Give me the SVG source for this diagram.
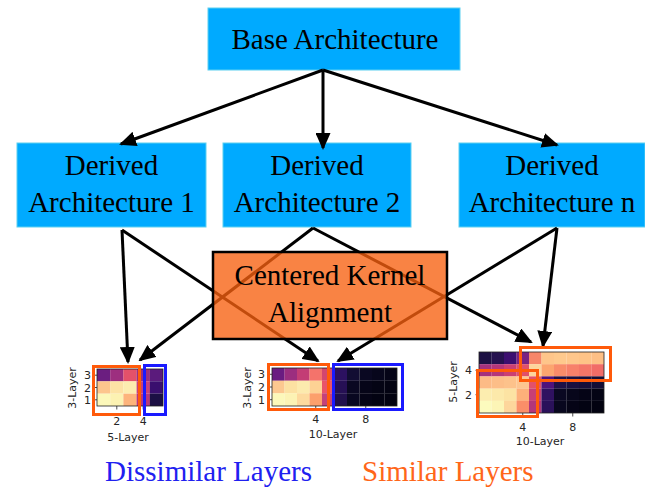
<svg xmlns="http://www.w3.org/2000/svg" width="645" height="487" viewBox="0 0 645 487">
<style>
.nb{fill:#00AAFF;stroke:#5CD0F0;stroke-width:1}
.t{font-family:"Liberation Serif","Times New Roman",serif;font-size:29px;fill:#000;text-anchor:middle}
.ax{font-family:"DejaVu Sans",sans-serif;font-size:11px;fill:#262626}
.c{stroke:#000;stroke-width:3;fill:none;marker-end:url(#ah)}
.sp{fill:none;stroke:#222;stroke-width:0.8}
.tk{stroke:#222;stroke-width:0.8}
.ob{fill:none;stroke:#FF5A0A;stroke-width:3}
.bb{fill:none;stroke:#1A1AFF;stroke-width:3}
</style>
<defs>
<marker id="ah" markerUnits="userSpaceOnUse" markerWidth="17" markerHeight="15" viewBox="0 0 17 15" refX="15" refY="7.5" orient="auto">
<path d="M0,0 L17,7.5 L0,15 z" fill="#000"/>
</marker>
</defs>
<rect width="645" height="487" fill="#fff"/>
<g id="base">
<rect class="nb" x="208" y="8" width="252" height="62"/>
<text class="t" x="335" y="49">Base Architecture</text>
</g>
<g id="derived1">
<rect class="nb" x="17" y="143" width="189" height="84"/>
<text class="t" x="111.5" y="175">Derived</text>
<text class="t" x="111.5" y="212">Architecture 1</text>
</g>
<g id="derived2">
<rect class="nb" x="223" y="143" width="188" height="84"/>
<text class="t" x="317" y="175">Derived</text>
<text class="t" x="317" y="212">Architecture 2</text>
</g>
<g id="derivedn">
<rect class="nb" x="459" y="143" width="186" height="84"/>
<text class="t" x="552" y="175">Derived</text>
<text class="t" x="552" y="212">Architecture n</text>
</g>
<g id="connectors">
<line class="c" x1="323" y1="70" x2="121" y2="144"/>
<line class="c" x1="323" y1="70" x2="323" y2="148"/>
<line class="c" x1="323" y1="70" x2="557" y2="145"/>
<line class="c" x1="122" y1="230" x2="128" y2="362"/>
<line class="c" x1="122" y1="230" x2="318" y2="361"/>
<line class="c" x1="313" y1="228" x2="140" y2="360"/>
<line class="c" x1="313" y1="228" x2="531" y2="342"/>
<line class="c" x1="557" y1="228" x2="338" y2="361"/>
<line class="c" x1="557" y1="228" x2="543" y2="346"/>
</g>
<g id="cka">
<rect x="213" y="252" width="234" height="87" fill="#F76010" fill-opacity="0.78" stroke="#000" stroke-width="2.5"/>
<text class="t" x="330" y="285">Centered Kernel</text>
<text class="t" x="330" y="322">Alignment</text>
</g>
<g id="heatmap1">
<g>
<rect x="97" y="369" width="13.3" height="12.4" fill="#6B1E80"/>
<rect x="110.2" y="369" width="13.3" height="12.4" fill="#9D2F7F"/>
<rect x="123.4" y="369" width="13.3" height="12.4" fill="#E4516A"/>
<rect x="136.6" y="369" width="13.3" height="12.4" fill="#9A3080"/>
<rect x="149.8" y="369" width="13.2" height="12.4" fill="#5B1B7C"/>
<rect x="97" y="381.3" width="13.3" height="12.4" fill="#FDC58D"/>
<rect x="110.2" y="381.3" width="13.3" height="12.4" fill="#FDE3A5"/>
<rect x="123.4" y="381.3" width="13.3" height="12.4" fill="#FCEDB0"/>
<rect x="136.6" y="381.3" width="13.3" height="12.4" fill="#C8417A"/>
<rect x="149.8" y="381.3" width="13.2" height="12.4" fill="#3A0F6E"/>
<rect x="97" y="393.7" width="13.3" height="12.3" fill="#FCF8BA"/>
<rect x="110.2" y="393.7" width="13.3" height="12.3" fill="#FCF2B2"/>
<rect x="123.4" y="393.7" width="13.3" height="12.3" fill="#FDB47C"/>
<rect x="136.6" y="393.7" width="13.3" height="12.3" fill="#B8377B"/>
<rect x="149.8" y="393.7" width="13.2" height="12.3" fill="#1C1044"/>
</g>
<rect class="sp" x="97" y="369" width="66" height="37"/>
<line class="tk" x1="93.5" y1="375.2" x2="97" y2="375.2"/>
<line class="tk" x1="93.5" y1="387.5" x2="97" y2="387.5"/>
<line class="tk" x1="93.5" y1="399.8" x2="97" y2="399.8"/>
<line class="tk" x1="116.8" y1="406" x2="116.8" y2="409.5"/>
<line class="tk" x1="143.2" y1="406" x2="143.2" y2="409.5"/>
<text class="ax" x="91" y="379.2" text-anchor="end">3</text>
<text class="ax" x="91" y="391.5" text-anchor="end">2</text>
<text class="ax" x="91" y="403.8" text-anchor="end">1</text>
<text class="ax" x="116.8" y="425" text-anchor="middle">2</text>
<text class="ax" x="143.2" y="425" text-anchor="middle">4</text>
<text class="ax" x="128" y="441" text-anchor="middle">5-Layer</text>
<text class="ax" transform="translate(76,388) rotate(-90)" text-anchor="middle">3-Layer</text>
<rect class="ob" x="93.5" y="366.5" width="46" height="48"/>
<rect class="bb" x="144.5" y="365.5" width="21" height="49"/>
</g>
<g id="heatmap2">
<g>
<rect x="272" y="368" width="12.6" height="12.8" fill="#6A1C81"/>
<rect x="284.5" y="368" width="12.6" height="12.8" fill="#9B2E7F"/>
<rect x="297" y="368" width="12.6" height="12.8" fill="#C33D75"/>
<rect x="309.5" y="368" width="12.6" height="12.8" fill="#F4736B"/>
<rect x="322" y="368" width="12.6" height="12.8" fill="#D3466F"/>
<rect x="334.5" y="368" width="12.6" height="12.8" fill="#2C1160"/>
<rect x="347" y="368" width="12.6" height="12.8" fill="#120D33"/>
<rect x="359.5" y="368" width="12.6" height="12.8" fill="#0A0822"/>
<rect x="372" y="368" width="12.6" height="12.8" fill="#07061C"/>
<rect x="384.5" y="368" width="12.5" height="12.8" fill="#050417"/>
<rect x="272" y="380.7" width="12.6" height="12.8" fill="#FCC890"/>
<rect x="284.5" y="380.7" width="12.6" height="12.8" fill="#FCE1A2"/>
<rect x="297" y="380.7" width="12.6" height="12.8" fill="#FCEAAE"/>
<rect x="309.5" y="380.7" width="12.6" height="12.8" fill="#FDD294"/>
<rect x="322" y="380.7" width="12.6" height="12.8" fill="#E8546A"/>
<rect x="334.5" y="380.7" width="12.6" height="12.8" fill="#261055"/>
<rect x="347" y="380.7" width="12.6" height="12.8" fill="#0A0822"/>
<rect x="359.5" y="380.7" width="12.6" height="12.8" fill="#060518"/>
<rect x="372" y="380.7" width="12.6" height="12.8" fill="#040414"/>
<rect x="384.5" y="380.7" width="12.5" height="12.8" fill="#030312"/>
<rect x="272" y="393.3" width="12.6" height="12.7" fill="#FCF8BA"/>
<rect x="284.5" y="393.3" width="12.6" height="12.7" fill="#FCF3B4"/>
<rect x="297" y="393.3" width="12.6" height="12.7" fill="#FDDA9E"/>
<rect x="309.5" y="393.3" width="12.6" height="12.7" fill="#FCA06C"/>
<rect x="322" y="393.3" width="12.6" height="12.7" fill="#C3427A"/>
<rect x="334.5" y="393.3" width="12.6" height="12.7" fill="#21104C"/>
<rect x="347" y="393.3" width="12.6" height="12.7" fill="#080720"/>
<rect x="359.5" y="393.3" width="12.6" height="12.7" fill="#050416"/>
<rect x="372" y="393.3" width="12.6" height="12.7" fill="#030312"/>
<rect x="384.5" y="393.3" width="12.5" height="12.7" fill="#020210"/>
</g>
<rect class="sp" x="272" y="368" width="125" height="38"/>
<line class="tk" x1="268.5" y1="374.3" x2="272" y2="374.3"/>
<line class="tk" x1="268.5" y1="387" x2="272" y2="387"/>
<line class="tk" x1="268.5" y1="399.7" x2="272" y2="399.7"/>
<line class="tk" x1="315.75" y1="406" x2="315.75" y2="409.5"/>
<line class="tk" x1="365.75" y1="406" x2="365.75" y2="409.5"/>
<text class="ax" x="265" y="378.3" text-anchor="end">3</text>
<text class="ax" x="265" y="391" text-anchor="end">2</text>
<text class="ax" x="265" y="403.7" text-anchor="end">1</text>
<text class="ax" x="315.75" y="422.5" text-anchor="middle">4</text>
<text class="ax" x="365.75" y="422.5" text-anchor="middle">8</text>
<text class="ax" x="333" y="437.5" text-anchor="middle">10-Layer</text>
<text class="ax" transform="translate(251,388) rotate(-90)" text-anchor="middle">3-Layer</text>
<rect class="ob" x="268.5" y="364.5" width="60" height="45"/>
<rect class="bb" x="333.5" y="364.5" width="69" height="45"/>
</g>
<g id="heatmap3">
<g>
<rect x="479" y="352" width="12.6" height="12.3" fill="#1D1144"/>
<rect x="491.5" y="352" width="12.6" height="12.3" fill="#25124F"/>
<rect x="504" y="352" width="12.6" height="12.3" fill="#3C0F70"/>
<rect x="516.5" y="352" width="12.6" height="12.3" fill="#7A2382"/>
<rect x="529" y="352" width="12.6" height="12.3" fill="#F6866A"/>
<rect x="541.5" y="352" width="12.6" height="12.3" fill="#FEC58A"/>
<rect x="554" y="352" width="12.6" height="12.3" fill="#FEC98D"/>
<rect x="566.5" y="352" width="12.6" height="12.3" fill="#FEC68B"/>
<rect x="579" y="352" width="12.6" height="12.3" fill="#FEC387"/>
<rect x="591.5" y="352" width="12.5" height="12.3" fill="#FDBF85"/>
<rect x="479" y="364.2" width="12.6" height="12.3" fill="#A5317D"/>
<rect x="491.5" y="364.2" width="12.6" height="12.3" fill="#B5367A"/>
<rect x="504" y="364.2" width="12.6" height="12.3" fill="#CB3F73"/>
<rect x="516.5" y="364.2" width="12.6" height="12.3" fill="#E0506B"/>
<rect x="529" y="364.2" width="12.6" height="12.3" fill="#FDD59C"/>
<rect x="541.5" y="364.2" width="12.6" height="12.3" fill="#FCA56F"/>
<rect x="554" y="364.2" width="12.6" height="12.3" fill="#F98C6A"/>
<rect x="566.5" y="364.2" width="12.6" height="12.3" fill="#F7806A"/>
<rect x="579" y="364.2" width="12.6" height="12.3" fill="#F47568"/>
<rect x="591.5" y="364.2" width="12.5" height="12.3" fill="#F16C67"/>
<rect x="479" y="376.4" width="12.6" height="12.3" fill="#FDBB86"/>
<rect x="491.5" y="376.4" width="12.6" height="12.3" fill="#FDBE88"/>
<rect x="504" y="376.4" width="12.6" height="12.3" fill="#FDC28B"/>
<rect x="516.5" y="376.4" width="12.6" height="12.3" fill="#FDC590"/>
<rect x="529" y="376.4" width="12.6" height="12.3" fill="#E2516A"/>
<rect x="541.5" y="376.4" width="12.6" height="12.3" fill="#4F127B"/>
<rect x="554" y="376.4" width="12.6" height="12.3" fill="#1F1147"/>
<rect x="566.5" y="376.4" width="12.6" height="12.3" fill="#1A1040"/>
<rect x="579" y="376.4" width="12.6" height="12.3" fill="#160E3A"/>
<rect x="591.5" y="376.4" width="12.5" height="12.3" fill="#140E36"/>
<rect x="479" y="388.6" width="12.6" height="12.3" fill="#FCEDAF"/>
<rect x="491.5" y="388.6" width="12.6" height="12.3" fill="#FCE9AA"/>
<rect x="504" y="388.6" width="12.6" height="12.3" fill="#FCE3A3"/>
<rect x="516.5" y="388.6" width="12.6" height="12.3" fill="#FDB07A"/>
<rect x="529" y="388.6" width="12.6" height="12.3" fill="#C83F74"/>
<rect x="541.5" y="388.6" width="12.6" height="12.3" fill="#2F1160"/>
<rect x="554" y="388.6" width="12.6" height="12.3" fill="#0A0822"/>
<rect x="566.5" y="388.6" width="12.6" height="12.3" fill="#07061B"/>
<rect x="579" y="388.6" width="12.6" height="12.3" fill="#050416"/>
<rect x="591.5" y="388.6" width="12.5" height="12.3" fill="#040414"/>
<rect x="479" y="400.8" width="12.6" height="12.2" fill="#FCFBBE"/>
<rect x="491.5" y="400.8" width="12.6" height="12.2" fill="#FCF5B6"/>
<rect x="504" y="400.8" width="12.6" height="12.2" fill="#FDD69C"/>
<rect x="516.5" y="400.8" width="12.6" height="12.2" fill="#FA8E69"/>
<rect x="529" y="400.8" width="12.6" height="12.2" fill="#B3367A"/>
<rect x="541.5" y="400.8" width="12.6" height="12.2" fill="#2A115A"/>
<rect x="554" y="400.8" width="12.6" height="12.2" fill="#08071E"/>
<rect x="566.5" y="400.8" width="12.6" height="12.2" fill="#050416"/>
<rect x="579" y="400.8" width="12.6" height="12.2" fill="#030312"/>
<rect x="591.5" y="400.8" width="12.5" height="12.2" fill="#020210"/>
</g>
<rect class="sp" x="479" y="352" width="125" height="61"/>
<line class="tk" x1="475.5" y1="370.3" x2="479" y2="370.3"/>
<line class="tk" x1="475.5" y1="394.7" x2="479" y2="394.7"/>
<line class="tk" x1="522.75" y1="413" x2="522.75" y2="416.5"/>
<line class="tk" x1="572.75" y1="413" x2="572.75" y2="416.5"/>
<text class="ax" x="472" y="374.3" text-anchor="end">4</text>
<text class="ax" x="472" y="398.7" text-anchor="end">2</text>
<text class="ax" x="522.75" y="431" text-anchor="middle">4</text>
<text class="ax" x="572.75" y="431" text-anchor="middle">8</text>
<text class="ax" x="540" y="445" text-anchor="middle">10-Layer</text>
<text class="ax" transform="translate(457,382) rotate(-90)" text-anchor="middle">5-Layer</text>
<rect class="ob" x="520.5" y="347.5" width="90" height="33"/>
<rect class="ob" x="477.5" y="370.5" width="60" height="46"/>
</g>
<g id="legend">
<text x="105" y="481" font-family="'Liberation Serif','Times New Roman',serif" font-size="29" fill="#2020F0">Dissimilar Layers</text>
<text x="362" y="481" font-family="'Liberation Serif','Times New Roman',serif" font-size="29" fill="#FF6619">Similar Layers</text>
</g>
</svg>
